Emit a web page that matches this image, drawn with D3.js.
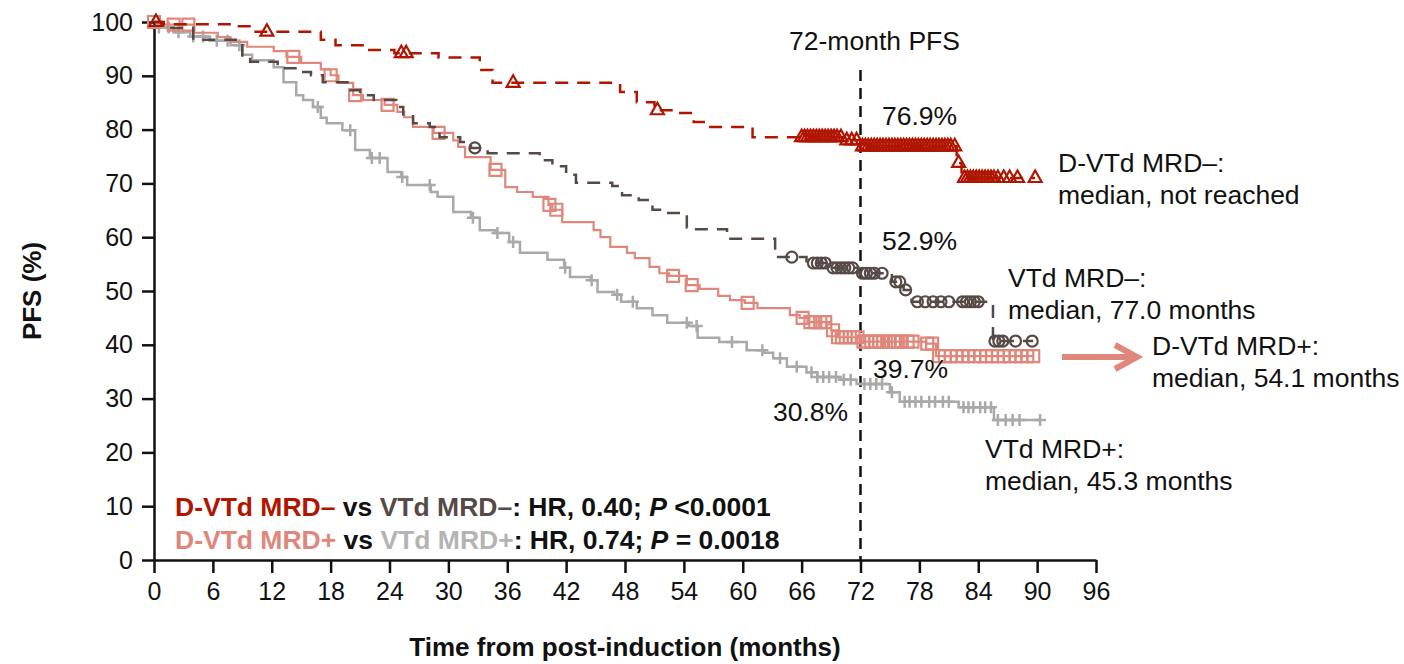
<!DOCTYPE html>
<html>
<head>
<meta charset="utf-8">
<script src="https://cdn.jsdelivr.net/npm/d3@7"></script>
<style>
body { margin: 0; background: #fff; }
svg { font-family: "Liberation Sans", Arial, sans-serif; }
.axis text { font-size: 25px; fill: #111; }
.axis path, .axis line { stroke: #111; stroke-width: 2.5px; }
.note { font-size: 26.5px; fill: #111; }
.title { font-size: 26px; font-weight: bold; fill: #111; }
.legend { font-size: 26.5px; font-weight: bold; fill: #111; }
</style>
</head>
<body>
<svg id="chart" width="1404" height="664"></svg>
<script>
// tick labels
var xTicks = [0, 6, 12, 18, 24, 30, 36, 42, 48, 54, 60, 66, 72, 78, 84, 90, 96];
var yTicks = [0, 10, 20, 30, 40, 50, 60, 70, 80, 90, 100];

// D-VTd MRD– (step months / PFS %)
var dNegMonths = [0, 1, 8.5, 10, 17, 18.5, 21.8, 24.5, 29, 33.2, 34.5, 47.5, 49.2, 51, 53.4, 55, 56.2, 61, 70.3, 72, 81.8, 82.3];
var dNegPfs = [100, 99.6, 99.2, 98.2, 96.7, 95.7, 94.8, 94.2, 93.4, 91.1, 88.7, 87.0, 85.1, 83.6, 83.1, 81.4, 80.5, 78.6, 78.0, 76.9, 73.8, 71.0];
var dNegEnd = 89.8;
var dNegCensor = [0.2, 11.5, 25.2, 25.7, 36.6, 51.3, 66, 66.3, 66.6, 66.9, 67.2, 67.5, 67.8, 68.1, 68.4, 68.7, 69, 69.3, 69.6, 70.0,
    70.6, 71.1, 71.6, 72.2, 72.5, 72.8, 73.1, 73.4, 73.7, 74.0, 74.3, 74.6, 74.9, 75.2, 75.5, 75.8, 76.1, 76.4, 76.7, 77.0,
    77.3, 77.6, 77.9, 78.2, 78.5, 78.8, 79.1, 79.4, 79.7, 80.0, 80.3, 80.6, 80.9, 81.2, 81.6, 82.0, 82.6, 82.9, 83.2, 83.5,
    83.8, 84.1, 84.4, 84.7, 85.0, 85.3, 85.6, 86.0, 86.6, 87.2, 88.0, 89.8];

// VTd MRD–
var vNegMonths = [0, 0.8, 1.6, 4, 9, 9.8, 12.6, 14.7, 16, 17.2, 20, 21, 22.4, 24.7, 25.4, 26.4, 28.1, 29.1, 31.2, 32.3, 34,
    39.3, 40.6, 42, 43, 46.7, 47.7, 49.4, 50.8, 52.4, 54.3, 55, 58.4, 63.3, 66.5, 68.8, 71.8, 75.2, 76.4, 77.2, 85.5];
var vNegPfs = [100, 99.5, 98.9, 96.7, 93.5, 92.6, 91.4, 90.7, 90.1, 88.8, 87.3, 86.4, 85.5, 84.2, 82.5, 81.2, 80.5, 78.6, 77.7, 76.6, 75.6,
    74.3, 73.2, 71.6, 70.1, 69.5, 67.8, 66.9, 65.1, 64.5, 61.8, 61.5, 59.7, 56.3, 55.2, 54.3, 53.3, 51.7, 50.2, 48.0, 40.7];
var vNegEnd = 89.6;
var vNegCensor = [32.7, 65.0, 67.2, 67.6, 68.0, 68.4, 69.2, 69.6, 70.0, 70.4, 70.8, 71.2, 72.2, 72.6, 73.0, 73.4, 74.2,
    75.6, 76.0, 76.6, 77.8, 78.6, 79.4, 80.2, 81.0, 82.4, 82.8, 83.2, 83.6, 84.0, 85.7, 86.1, 86.5, 87.8, 89.5];

// D-VTd MRD+
var dPosMonths = [0, 0.5, 4, 6.5, 7.8, 9.5, 12.2, 13.5, 15, 17, 18, 18.8, 20.3, 21.3, 23.5, 24.8, 25.5, 26.4, 28.5, 30.5, 31, 31.7,
    34.3, 35.8, 37, 38.6, 40.2, 40.6, 41.6, 44.8, 45.5, 46.5, 48.2, 49, 50.5, 51.5, 52.5, 54.3, 55.6, 57.5, 58.7, 60.2, 61.5,
    64.8, 65.8, 66.6, 69.0, 69.6, 72, 78.7, 79.7];
var dPosPfs = [100, 99.5, 98, 97.2, 96.3, 95.4, 94.6, 93.5, 92.4, 91.2, 90.1, 88.7, 86.4, 85.5, 84.6, 83.3, 82.3, 80.5, 79.4, 78, 76.8, 74.9,
    72.5, 69.3, 68.4, 67.5, 66.0, 65.1, 62.8, 61.3, 60, 58.2, 57.1, 56.1, 54.5, 53.3, 52.8, 51.1, 50.4, 49.1, 48.3, 47.8, 46.8,
    45.5, 45.0, 44.2, 42.7, 41.4, 40.6, 40.2, 37.9];
var dPosEnd = 89.6;
var dPosCensor = [0, 2, 3.5, 14.2, 18, 20.5, 23.8, 29, 34.8, 40.3, 41, 52.9, 54.8, 60.5, 66.1, 66.9, 67.4, 67.9, 68.4, 69.2, 69.7,
    70.1, 70.5, 70.9, 71.3, 71.7, 72.3, 72.7, 73.1, 73.5, 73.9, 74.3, 74.9, 75.4, 75.8, 76.2, 76.8, 77.3, 78.8, 79.3, 80.0,
    80.6, 81.2, 81.8, 82.4, 83.0, 83.6, 84.2, 84.8, 85.4, 86.0, 86.6, 87.2, 87.8, 88.4, 89.0, 89.6];

// VTd MRD+
var vPosMonths = [0, 0.3, 2, 3.7, 5.7, 7.8, 9, 10, 12.2, 13.2, 14.5, 15.2, 16.2, 17, 17.6, 19.2, 20.5, 22, 23.8, 25.2, 25.8, 28.2,
    28.9, 30.5, 32.3, 33.2, 34.8, 36.2, 37.3, 40.1, 41.8, 42.4, 44.5, 45.2, 46.9, 47.6, 49.2, 50.8, 52.3, 54.5, 55.4, 57.6,
    60.4, 62.2, 63.1, 64.5, 66.5, 67.6, 69.9, 71.6, 75.0, 76.0, 82.0, 85.6];
var vPosPfs = [100, 99, 98.1, 97.3, 96.5, 95.7, 93.9, 92.9, 91.6, 88.8, 86.4, 85.5, 84.2, 82.2, 81.2, 79.9, 76.2, 74.7, 72.1, 71.2, 69.7, 68.4,
    67.5, 64.7, 63.6, 61.3, 60.8, 59.1, 57.1, 55.8, 54.3, 52.6, 52.0, 49.8, 49.3, 48.0, 46.8, 45.5, 44.1, 43.5, 41.3, 40.5,
    39.0, 38.5, 37.5, 35.9, 34.9, 34.0, 33.5, 32.7, 31.2, 29.4, 28.4, 26.0];
var vPosEnd = 90.3;
var vPosCensor = [0.5, 1.5, 2.5, 4, 5, 6.4, 7.5, 8.7, 16.7, 20, 22.2, 23, 25.3, 28.1, 32.5, 35, 36.6, 41.9, 44.6, 47.2, 48.8,
    54.3, 55.3, 58.9, 62, 63.8, 65.5, 67, 67.6, 68.2, 68.8, 69.5, 70.3, 71, 72.4, 73, 73.6, 74.2, 75.2, 76.5, 77, 77.6,
    78.2, 79, 79.6, 80.4, 81, 82.5, 83, 83.5, 84.2, 84.7, 85.3, 86, 86.8, 87.5, 88.2, 90.3];

var colors = {
    dNeg: "#b01500",
    vNeg: "#574a46",
    dPos: "#e0877b",
    vPos: "#a9a9a9"
};

var svg = d3.select("#chart");

var xScale = d3.scaleLinear()
    .domain([0, 96])
    .range([154, 1096]);
var yScale = d3.scaleLinear()
    .domain([0, 100])
    .range([560, 22]);

// axes
svg.append("g")
    .attr("class", "axis")
    .attr("transform", "translate(0,560)")
    .call(d3.axisBottom(xScale).tickValues(xTicks).tickSize(13).tickSizeOuter(0).tickPadding(9));
svg.append("g")
    .attr("class", "axis")
    .attr("transform", "translate(154,0)")
    .call(d3.axisLeft(yScale).tickValues(yTicks).tickSize(12).tickSizeOuter(0).tickPadding(9));

svg.append("text")
    .attr("class", "title")
    .attr("transform", "translate(41," + yScale(50) + ") rotate(-90)")
    .attr("text-anchor", "middle")
    .text("PFS (%)");
svg.append("text")
    .attr("class", "title")
    .attr("x", xScale(48))
    .attr("y", 656)
    .attr("text-anchor", "middle")
    .text("Time from post-induction (months)");

// 72-month reference line
svg.append("line")
    .attr("x1", xScale(72)).attr("x2", xScale(72))
    .attr("y1", 70).attr("y2", yScale(0))
    .attr("stroke", "#111")
    .attr("stroke-width", 2.5)
    .attr("stroke-dasharray", "11,7");
svg.append("text")
    .attr("class", "note")
    .attr("x", xScale(72) + 14)
    .attr("y", 50)
    .attr("text-anchor", "middle")
    .text("72-month PFS");

function valueAt(months, pfs, t) {
    var i = d3.bisectRight(months, t) - 1;
    return pfs[Math.max(0, i)];
}

var markers = {
    triangle: "M0,-7.5L6.5,4L-6.5,4Z",
    square: "M-6,-6H6V6H-6Z",
    circle: "M5.5,0A5.5,5.5 0 1,1 -5.5,0A5.5,5.5 0 1,1 5.5,0Z",
    plus: "M-6,0H6M0,-6V6"
};

var series = [
    { months: vPosMonths, pfs: vPosPfs, end: vPosEnd, censor: vPosCensor, color: colors.vPos, dash: null, width: 2.5, marker: "plus" },
    { months: dPosMonths, pfs: dPosPfs, end: dPosEnd, censor: dPosCensor, color: colors.dPos, dash: null, width: 2.2, marker: "square" },
    { months: vNegMonths, pfs: vNegPfs, end: vNegEnd, censor: vNegCensor, color: colors.vNeg, dash: "13,9", width: 2.5, marker: "circle" },
    { months: dNegMonths, pfs: dNegPfs, end: dNegEnd, censor: dNegCensor, color: colors.dNeg, dash: "13,9", width: 2.5, marker: "triangle" }
];

var line = d3.line()
    .curve(d3.curveStepAfter)
    .x(function(d) { return xScale(d[0]); })
    .y(function(d) { return yScale(d[1]); });

series.forEach(function(s) {
    var pts = s.months.map(function(m, i) { return [m, s.pfs[i]]; });
    pts.push([s.end, s.pfs[s.pfs.length - 1]]);
    var g = svg.append("g");
    g.append("path")
        .datum(pts)
        .attr("d", line)
        .attr("fill", "none")
        .attr("stroke", s.color)
        .attr("stroke-width", s.width)
        .attr("stroke-dasharray", s.dash);
    g.selectAll(".cens")
        .data(s.censor)
        .enter()
        .append("path")
        .attr("transform", function(t) {
            return "translate(" + xScale(t) + "," + yScale(valueAt(s.months, s.pfs, t)) + ")";
        })
        .attr("d", markers[s.marker])
        .attr("fill", "none")
        .attr("stroke", s.color)
        .attr("stroke-width", s.marker == "plus" ? 2.5 : 2.2);
});

// percentage labels
svg.append("text").attr("class", "note").attr("x", 882).attr("y", 125).text("76.9%");
svg.append("text").attr("class", "note").attr("x", 882).attr("y", 250).text("52.9%");
svg.append("text").attr("class", "note").attr("x", 873).attr("y", 378).text("39.7%");
svg.append("text").attr("class", "note").attr("x", 773).attr("y", 421).text("30.8%");

// curve labels
function twoLines(x, y, a, b) {
    svg.append("text").attr("class", "note").attr("x", x).attr("y", y).text(a);
    svg.append("text").attr("class", "note").attr("x", x).attr("y", y + 32).text(b);
}
twoLines(1058, 172, "D-VTd MRD\u2013:", "median, not reached");
twoLines(1008, 287, "VTd MRD\u2013:", "median, 77.0 months");
twoLines(1152, 355, "D-VTd MRD+:", "median, 54.1 months");
twoLines(985, 458, "VTd MRD+:", "median, 45.3 months");

// arrow
svg.append("line")
    .attr("x1", 1062).attr("x2", 1136)
    .attr("y1", 357).attr("y2", 357)
    .attr("stroke", colors.dPos)
    .attr("stroke-width", 6);
svg.append("path")
    .attr("d", "M1115,345L1137,357L1115,369")
    .attr("fill", "none")
    .attr("stroke", colors.dPos)
    .attr("stroke-width", 6);

// HR legend
var leg1 = svg.append("text").attr("class", "legend").attr("x", 175).attr("y", 516);
leg1.append("tspan").attr("fill", colors.dNeg).text("D-VTd MRD\u2013");
leg1.append("tspan").text(" vs ");
leg1.append("tspan").attr("fill", colors.vNeg).text("VTd MRD\u2013");
leg1.append("tspan").text(": HR, 0.40; ");
leg1.append("tspan").attr("font-style", "italic").text("P");
leg1.append("tspan").text(" <0.0001");

var leg2 = svg.append("text").attr("class", "legend").attr("x", 175).attr("y", 549);
leg2.append("tspan").attr("fill", colors.dPos).text("D-VTd MRD+");
leg2.append("tspan").text(" vs ");
leg2.append("tspan").attr("fill", "#b4b4b4").text("VTd MRD+");
leg2.append("tspan").text(": HR, 0.74; ");
leg2.append("tspan").attr("font-style", "italic").text("P");
leg2.append("tspan").text(" = 0.0018");
</script>
</body>
</html>
